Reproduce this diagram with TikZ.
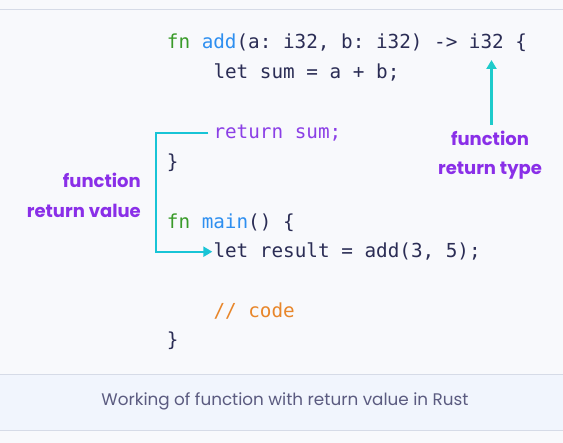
\documentclass[tikz,border=0pt]{standalone}
\usepackage{fontspec}
\setmainfont{Poppins}
\newfontfamily\codefont{DejaVu Sans Mono}
\usetikzlibrary{arrows.meta}
\definecolor{bgc}{HTML}{F8F9FC}
\definecolor{capbg}{HTML}{F1F5FD}
\definecolor{rulec}{HTML}{D6DBE7}
\definecolor{captxt}{HTML}{5B5B80}
\definecolor{kwgreen}{HTML}{3A9B2A}
\definecolor{fnblue}{HTML}{2E8FF0}
\definecolor{codetxt}{HTML}{2B2D55}
\definecolor{retpurple}{HTML}{8B3FE6}
\definecolor{cmtorange}{HTML}{E8862A}
\definecolor{labpurple}{HTML}{8A2FE8}
\definecolor{arrteal}{HTML}{1FCBCB}
\definecolor{arrcyan}{HTML}{18C4D6}
\tikzset{
  code/.style={anchor=mid west, inner sep=0pt, text=codetxt,
    font=\codefont\frenchspacing\fontsize{19.3}{22}\selectfont},
  lab/.style={inner sep=0pt, text=labpurple, anchor=mid,
    font=\bfseries\fontsize{18}{20}\selectfont},
  conn/.style={line width=2.4pt, -{Triangle[length=9pt,width=10pt]}}
}
\begin{document}
\begin{tikzpicture}[x=1pt,y=-1pt]
\useasboundingbox (0,0) rectangle (563,443);
\fill[bgc] (0,0) rectangle (563,443);
\draw[rulec, line width=1pt] (0,9.5) -- (563,9.5);
\fill[capbg] (0,375) rectangle (563,431);
\draw[rulec, line width=1pt] (0,375) -- (563,375);
\draw[rulec, line width=1pt] (0,431) -- (563,431);
\node[inner sep=0pt, anchor=mid, text=captxt, font=\frenchspacing\fontsize{16.8}{19}\selectfont] (cap) at (285,403) {Working of function with return value in Rust};

% code
\node[code] (l1) at (166.7,46) {\textcolor{kwgreen}{fn} \textcolor{fnblue}{add}(a: i32, b: i32) -> i32 \{};
\node[code] (l2) at (213.3,76) {let sum = a + b;};
\node[code, text=retpurple] (retsum) at (213.3,135.8) {return sum;};
\node[code] (l4) at (166.7,165.6) {\}};
\node[code] (l5) at (166.7,225.3) {\textcolor{kwgreen}{fn} \textcolor{fnblue}{main}() \{};
\node[code] (letres) at (213.3,255) {let result = add(3, 5);};
\node[code, text=cmtorange] (cmt) at (213.3,314.5) {// code};
\node[code] (l8) at (166.7,344.2) {\}};

% labels
\node[lab] (rt1) at (490,142.5) {function};
\node[lab] (rt2) at (490,171.5) {return type};
\node[lab, anchor=mid east] (rv1) at (141,184.5) {function};
\node[lab, anchor=mid east] (rv2) at (141,214.5) {return value};

\coordinate (tip) at (491.5,60);
\draw[conn, arrteal] (rt1.north -| tip) ++(0,-6) -- (tip);
\draw[conn, arrcyan] ([xshift=-5pt]retsum.west) -- ++(-52.6,0) |- ([xshift=-1pt]letres.west);
\end{tikzpicture}
\end{document}
